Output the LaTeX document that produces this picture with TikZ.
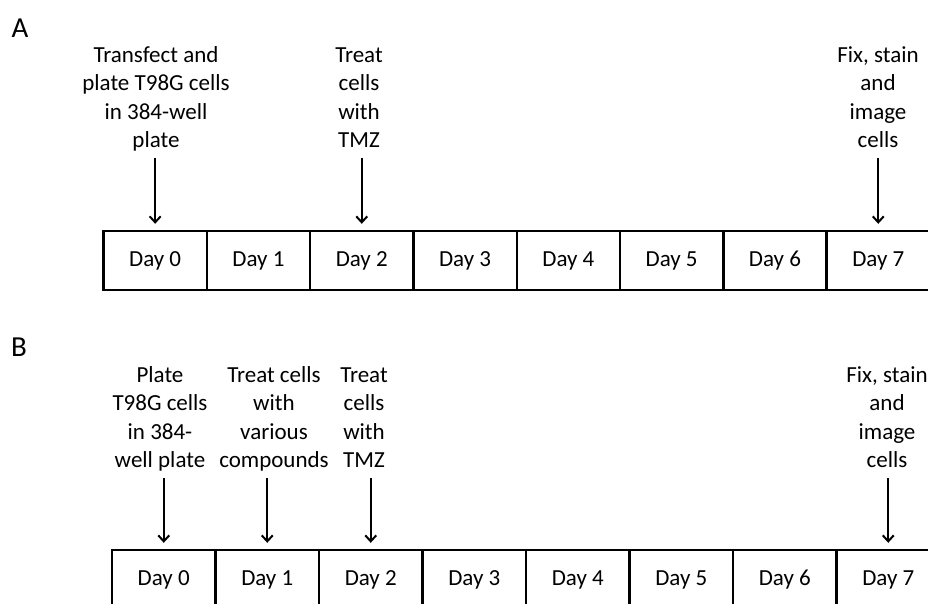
\documentclass[tikz,border=0pt]{standalone}
\usepackage{fontspec}
\setmainfont{Carlito}
\usetikzlibrary{arrows.meta}
\tikzset{
  cellA/.style={draw, line width=2.4pt, inner sep=0pt, minimum width=103.3pt, minimum height=59pt, text height=16pt, text depth=5pt, font=\fontsize{23}{27}\selectfont},
  cellB/.style={draw, line width=2.4pt, inner sep=0pt, minimum width=103.5pt, minimum height=59pt, text height=16pt, text depth=5pt, font=\fontsize{23}{27}\selectfont},
  lbl/.style={align=center, inner sep=0pt, anchor=south, font=\fontsize{23}{28.4}\selectfont},
  panel/.style={inner sep=0pt, font=\fontsize{29}{32}\selectfont},
  arr/.style={line width=2pt, -{Straight Barb[length=6pt,width=11pt,line width=2pt]}, shorten <=1.5pt, shorten >=6pt}
}
\begin{document}
\begin{tikzpicture}[x=1pt,y=-1pt]
\useasboundingbox (0,0) rectangle (928,604);
% panel labels
\node[panel] (pA) at (20,28) {A};
\node[panel] (pB) at (19,347) {B};
% panel A cells
\foreach \i in {0,...,7}{
  \node[cellA] (a\i) at ({155.15+\i*103.3},260.5) {Day \i};
}
% panel B cells
\foreach \i in {0,...,7}{
  \node[cellB] (b\i) at ({163.75+\i*103.5},579.5) {Day \i};
}
% panel A labels
\node[lbl] (la0) at (156,156.5) {Transfect and\\plate T98G cells\\in 384-well\\plate\strut};
\node[lbl] (la2) at (359,156.5) {Treat\\cells\\with\\TMZ\strut};
\node[lbl] (la7) at (878,156.5) {Fix, stain\\and\\image\\cells\strut};
% panel B labels
\node[lbl] (lb0) at (160,476.5) {Plate\\T98G cells\\in 384-\\well plate\strut};
\node[lbl] (lb1) at (274,476.5) {Treat cells\\with\\various\\compounds\strut};
\node[lbl] (lb2) at (364,476.5) {Treat\\cells\\with\\TMZ\strut};
\node[lbl] (lb7) at (887,476.5) {Fix, stain\\and\\image\\cells\strut};
% arrows
\draw[arr] (a0.north |- la0.south) -- (a0.north);
\draw[arr] (a2.north |- la2.south) -- (a2.north);
\draw[arr] (a7.north |- la7.south) -- (a7.north);
\draw[arr] (b0.north |- lb0.south) -- (b0.north);
\draw[arr] (b1.north |- lb1.south) -- (b1.north);
\draw[arr] (b2.north |- lb2.south) -- (b2.north);
\draw[arr] (b7.north |- lb7.south) -- (b7.north);
\end{tikzpicture}
\end{document}
